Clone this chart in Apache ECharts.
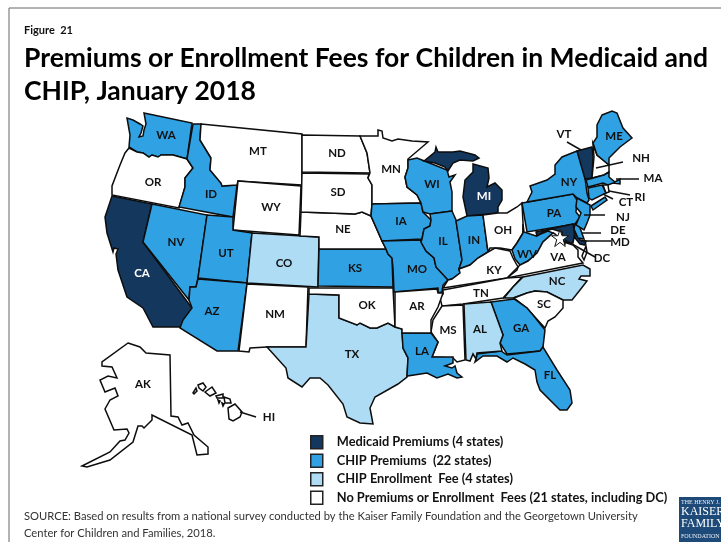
<!DOCTYPE html>
<html>
<head>
<meta charset="utf-8">
<style>
  html, body { margin: 0; padding: 0; background: #fff; }
  #chart { width: 721px; height: 542px; }
</style>
<script src="https://cdn.jsdelivr.net/npm/echarts@6/dist/echarts.min.js"></script>
</head>
<body>
<div id="chart"></div>
<script>
// policy groups, as listed in the legend
const tierNames = [
  'Medicaid Premiums (4 states)',
  'CHIP Premiums  (22 states)',
  'CHIP Enrollment  Fee (4 states)',
  'No Premiums or Enrollment  Fees (21 states, including DC)'
];
const tierColors = ['#14375e', '#30a1e3', '#aedcf5', '#ffffff'];
const medicaidStates = ['CA', 'MI', 'MD', 'VT'];
const chipPremiumStates = ['WA', 'ID', 'NV', 'UT', 'AZ', 'KS', 'IA', 'MO', 'WI', 'IL', 'IN', 'LA', 'GA', 'FL', 'WV', 'PA', 'NY', 'NJ', 'DE', 'CT', 'MA', 'ME'];
const chipFeeStates = ['CO', 'TX', 'AL', 'NC'];
const noFeeStates = ['OR', 'MT', 'WY', 'NM', 'ND', 'SD', 'NE', 'OK', 'MN', 'AR', 'MS', 'TN', 'KY', 'OH', 'VA', 'SC', 'NH', 'RI', 'AK', 'HI', 'DC'];
const tierStates = [medicaidStates, chipPremiumStates, chipFeeStates, noFeeStates];
const lightLabelStates = ['CA', 'MI'];

// hand traced state outlines, one list per polygon (x, y down)
const outlines = {
  WA: [[[144,113],[192,123],[187,159],[173,155],[161,155],[158,157],[152,155],[149,157],[143,153],[137,152],[129,147],[130,135],[127,118],[133,120],[140,124],[143,126],[141,133],[139,137],[143,136],[144,130],[146,124]]],
  OR: [[[129,148],[137,152],[143,153],[149,157],[152,155],[158,157],[161,155],[173,155],[187,159],[193,168],[185,178],[185,187],[179,208],[112,195],[112,186],[120,165],[125,153]]],
  CA: [[[112,196],[152,204],[143,242],[192,308],[183,327],[153,327],[143,308],[127,297],[118,270],[116,254],[118,249],[114,248],[113,252],[107,233],[105,217]]],
  NV: [[[152,204],[207,215],[198,278],[196,287],[190,287],[189,300],[143,242]]],
  ID: [[[193,124],[201,124],[200,140],[211,158],[210,170],[221,183],[222,186],[237,185],[233,217],[179,207],[185,187],[185,178],[193,168],[187,159]]],
  MT: [[[201,124],[302,134],[302,185],[238,181],[237,185],[222,186],[221,183],[210,170],[211,158],[200,140]]],
  WY: [[[238,181],[301,186],[299,235],[233,230]]],
  UT: [[[207,215],[233,217],[233,230],[252,233],[247,283],[198,278]]],
  CO: [[[252,233],[319,237],[318,287],[247,283]]],
  AZ: [[[198,279],[247,283],[238,351],[217,351],[180,328],[183,320],[192,308],[189,300],[190,287],[196,287]]],
  NM: [[[247,284],[308,287],[306,347],[267,347],[250,348],[249,352],[239,351]]],
  TX: [[[309,294],[339,295],[339,318],[357,325],[360,323],[370,328],[377,328],[388,323],[395,327],[402,329],[403,348],[408,358],[407,377],[398,384],[375,397],[370,408],[373,424],[360,423],[347,417],[343,404],[328,385],[320,378],[310,378],[302,387],[288,378],[286,368],[267,347],[306,347]]],
  OK: [[[309,288],[393,288],[395,327],[388,323],[377,328],[370,328],[360,323],[357,325],[339,318],[339,295],[309,294]]],
  KS: [[[319,249],[386,249],[388,254],[392,258],[393,287],[318,286]]],
  NE: [[[301,212],[355,214],[362,212],[371,216],[382,241],[386,249],[319,249],[319,237],[300,236]]],
  SD: [[[302,173],[369,174],[368,178],[372,185],[372,204],[371,216],[362,212],[355,214],[301,212]]],
  ND: [[[302,135],[360,136],[367,153],[370,173],[302,172]]],
  MN: [[[360,136],[378,136],[378,130],[382,131],[383,138],[392,141],[398,139],[412,141],[428,142],[408,159],[408,168],[405,177],[407,187],[417,195],[421,203],[372,204],[372,185],[368,178],[370,173],[367,153]]],
  IA: [[[372,204],[421,203],[423,212],[431,220],[430,226],[424,229],[422,239],[382,241],[371,216]]],
  MO: [[[382,241],[422,240],[421,242],[426,251],[434,258],[436,267],[448,280],[443,285],[442,292],[438,293],[438,288],[394,292],[393,268],[392,258],[388,254],[386,249]]],
  WI: [[[408,160],[417,158],[427,162],[447,170],[449,177],[455,175],[450,182],[452,192],[452,211],[430,214],[423,212],[421,203],[417,195],[407,187],[405,177],[408,168]]],
  IL: [[[430,214],[452,211],[456,220],[462,260],[459,269],[460,273],[452,279],[448,280],[436,267],[434,258],[426,251],[421,242],[422,239],[424,229],[430,226],[431,220]]],
  MI: [
    [[424,161],[435,152],[436,147],[438,152],[453,152],[460,151],[475,155],[479,158],[473,161],[460,160],[453,163],[448,171],[445,167],[435,163]],
    [[473,164],[488,168],[489,178],[487,187],[495,183],[502,190],[502,200],[498,207],[498,213],[467,216],[463,197],[465,180],[473,172]]
  ],
  IN: [[[456,221],[467,216],[483,215],[488,252],[478,258],[470,265],[459,269],[462,260]]],
  OH: [[[483,215],[498,213],[507,213],[517,207],[522,203],[523,223],[523,233],[517,243],[512,250],[500,248],[490,248],[488,252]]],
  WV: [[[523,224],[524,232],[536,236],[548,231],[553,233],[543,242],[537,253],[528,261],[520,265],[515,259],[512,250],[517,243],[523,233]]],
  PA: [[[522,203],[528,202],[573,194],[577,200],[576,212],[580,217],[575,224],[527,232]]],
  MD: [
    [[536,232],[573,224],[575,232],[573,243],[563,242],[562,232],[552,229],[543,232],[537,236]],
    [[574,230],[580,240],[586,241],[585,245],[580,244],[575,238]]
  ],
  DE: [[[575,224],[579,225],[584,239],[578,238],[574,229]]],
  VA: [
    [[555,234],[564,242],[573,245],[578,250],[578,257],[583,263],[507,278],[517,270],[518,267],[520,265],[528,261],[537,253],[543,242],[553,233]],
    [[586,246],[587,252],[584,260],[582,256]]
  ],
  KY: [[[443,288],[448,280],[452,279],[460,273],[459,269],[470,265],[478,258],[488,252],[495,248],[510,251],[513,258],[518,267],[507,278]]],
  TN: [[[443,290],[507,278],[522,277],[513,287],[503,298],[463,304],[442,306],[440,298],[443,294]]],
  NC: [[[523,277],[583,265],[590,269],[590,276],[581,276],[579,279],[587,281],[580,290],[572,300],[563,300],[547,292],[535,291],[527,293],[513,298],[504,298],[513,287]]],
  SC: [[[514,298],[527,293],[535,291],[547,292],[563,300],[563,308],[555,317],[548,321],[545,328],[533,315],[527,308]]],
  GA: [[[491,302],[514,299],[527,308],[533,315],[545,330],[543,347],[540,351],[507,354],[500,343],[503,335]]],
  FL: [[[477,354],[501,351],[507,355],[540,351],[543,347],[557,370],[570,390],[572,403],[567,410],[560,410],[540,390],[537,382],[535,370],[525,364],[513,358],[507,362],[497,356],[483,356],[475,362],[476,359]]],
  AL: [[[464,304],[491,302],[503,335],[500,343],[502,351],[477,353],[476,359],[473,354],[470,361],[466,360]]],
  MS: [[[442,306],[463,305],[465,360],[457,362],[453,358],[432,357],[438,342],[431,332],[433,320]]],
  LA: [[[402,333],[431,333],[438,342],[432,357],[453,357],[453,363],[445,366],[452,368],[455,366],[457,373],[462,377],[457,378],[448,374],[437,378],[427,373],[407,376],[408,358],[403,348]]],
  AR: [[[395,292],[437,289],[438,293],[443,293],[438,307],[431,320],[431,333],[402,333],[402,329],[395,327]]],
  NY: [
    [[527,202],[532,192],[530,186],[547,180],[555,174],[555,165],[562,157],[577,151],[582,163],[585,178],[587,193],[589,200],[587,203],[577,198],[573,194]],
    [[591,206],[605,197],[607,200],[593,210]]
  ],
  VT: [[[577,151],[592,147],[593,157],[592,178],[585,179],[581,165]]],
  NH: [[[593,144],[597,155],[609,165],[609,172],[604,175],[592,178],[594,157]]],
  ME: [[[602,115],[612,111],[617,113],[623,128],[632,138],[620,147],[609,158],[609,165],[597,155],[593,143],[597,137],[597,125]]],
  MA: [[[586,180],[604,175],[609,172],[609,177],[615,182],[620,179],[620,184],[613,183],[608,185],[603,183],[588,187]]],
  CT: [[[588,188],[602,185],[606,193],[592,200],[589,198]]],
  RI: [[[603,185],[608,185],[609,192],[606,193]]],
  NJ: [[[577,198],[590,205],[590,215],[587,223],[584,230],[576,225],[581,213],[576,207]]],
  DC: [[[563,242],[565,242],[565,244],[563,244]]],
  AK: [[[128,343],[140,347],[146,353],[170,355],[171,416],[178,417],[182,425],[188,423],[194,435],[208,447],[208,454],[197,455],[192,435],[152,415],[152,420],[144,428],[142,426],[138,426],[133,442],[110,460],[87,467],[82,466],[110,452],[120,441],[125,440],[129,433],[127,429],[114,430],[105,409],[110,400],[118,396],[115,388],[105,392],[100,380],[108,376],[117,378],[112,367],[102,366],[102,362]]],
  HI: [
    [[228,408],[235,404],[242,412],[240,417],[233,421],[229,419]],
    [[224,397],[230,399],[231,403],[225,403]],
    [[216,396],[223,394],[223,398],[217,398]],
    [[205,392],[212,387],[216,393],[210,396]],
    [[198,385],[203,383],[206,387],[203,391],[199,388]],
    [[193,393],[196,388],[197,391],[194,394]],
    [[218,400],[220,401],[219,403]],
    [[222,403],[224,404],[223,406]]
  ]
};

// where each state's abbreviation is printed
const labelSpots = {
  WA: [166,135], OR: [153,182], CA: [142,273], NV: [176,242], ID: [211,194], MT: [258,151], WY: [271,207],
  UT: [226,253], CO: [284,263], AZ: [212,311], NM: [275,314], ND: [337,153], SD: [338,192], NE: [343,229],
  KS: [355,268], TX: [352,354], OK: [367,305], AR: [417,306], LA: [422,351], MN: [391,169], IA: [401,221],
  MO: [417,269], WI: [432,184], IL: [443,241], MI: [484,196], IN: [474,240], OH: [503,230], PA: [554,213],
  NY: [569,182], WV: [527,254], VA: [558,257], KY: [494,270], TN: [481,293], NC: [557,281], SC: [544,304],
  GA: [521,328], AL: [480,329], MS: [448,330], FL: [550,375], ME: [614,136], VT: [564,134], NH: [641,158],
  MA: [653,178], RI: [640,197], CT: [626,202], NJ: [623,217], DE: [618,230], MD: [620,242], DC: [602,258],
  AK: [143,384], HI: [269,417]
};

// leader lines from the outside labels into the small states
const leaderLines = [
  [[567,142],[581,150]],
  [[623,162],[596,168]],
  [[639,179],[616,179]],
  [[630,195],[609,191]],
  [[613,199],[603,194]],
  [[605,215],[584,215]],
  [[601,233],[582,233]],
  [[611,241],[581,241]],
  [[595,257],[565,240]],
  [[256,417],[240,412]]
];
const capitalSpot = [560,238];
const starPath = 'path://M50 0L62 35L100 35L69 57L81 95L50 72L19 95L31 57L0 35L38 35Z';

const toGeo = p => [p[0], -p[1]];

const geoJson = {
  type: 'FeatureCollection',
  features: Object.keys(outlines).map(name => ({
    type: 'Feature',
    properties: { name: name },
    geometry: {
      type: 'MultiPolygon',
      coordinates: outlines[name].map(ring => [ring.map(toGeo)])
    }
  }))
};
echarts.registerMap('usStates', geoJson);

const regions = [];
tierStates.forEach((states, i) => {
  states.forEach(name => {
    regions.push({ name: name, itemStyle: { areaColor: tierColors[i] } });
  });
});

const labelFont = { fontFamily: 'Lato', fontWeight: 'bold', fontSize: 11.5 };
const tierSeries = tierNames.map((name, i) => ({
  type: 'scatter',
  name: name,
  coordinateSystem: 'geo',
  symbolSize: 0,
  silent: true,
  itemStyle: { color: tierColors[i], opacity: 1 },
  label: Object.assign({ show: true, position: 'inside', color: '#111', formatter: '{b}' }, labelFont),
  data: tierStates[i].map(st => {
    const item = { name: st, value: toGeo(labelSpots[st]) };
    if (lightLabelStates.includes(st)) {
      item.label = { color: '#ffffff' };
    }
    return item;
  }),
  z: 5
}));

const chart = echarts.init(document.getElementById('chart'));
chart.setOption({
  animation: false,
  backgroundColor: '#ffffff',
  title: [
    { text: 'Figure  21', left: 24, top: 25, padding: 0, textStyle: { fontFamily: 'Lato', fontWeight: 'bold', fontSize: 11, color: '#111' } },
    { text: 'Premiums or Enrollment Fees for Children in Medicaid and', left: 24, top: 45, padding: 0, textStyle: { fontFamily: 'Lato', fontWeight: 'bold', fontSize: 26.5, color: '#000' } },
    { text: 'CHIP, January 2018', left: 24, top: 78, padding: 0, textStyle: { fontFamily: 'Lato', fontWeight: 'bold', fontSize: 26.5, color: '#000' } },
    { text: 'SOURCE: Based on results from a national survey conducted by the Kaiser Family Foundation and the Georgetown University', left: 24, top: 511, padding: 0, textStyle: { fontFamily: 'Lato', fontWeight: 'normal', fontSize: 11.2, color: '#333' } },
    { text: 'Center for Children and Families, 2018.', left: 24, top: 528, padding: 0, textStyle: { fontFamily: 'Lato', fontWeight: 'normal', fontSize: 11.2, color: '#333' } }
  ],
  legend: {
    left: 310,
    top: 435,
    padding: 0,
    orient: 'vertical',
    itemWidth: 12,
    itemHeight: 13,
    itemGap: 4,
    selectedMode: false,
    textStyle: { fontFamily: 'Lato', fontWeight: 'bold', fontSize: 12.8, lineHeight: 13, color: '#111', padding: [0, 0, 0, 9] },
    data: tierNames.map((name, i) => ({
      name: name,
      icon: 'rect',
      itemStyle: { color: tierColors[i], opacity: 1, borderColor: '#222', borderWidth: 1.5 }
    }))
  },
  geo: {
    map: 'usStates',
    roam: false,
    silent: true,
    aspectScale: 1,
    left: 0,
    top: 0,
    width: 721,
    height: 542,
    boundingCoords: [[0, 0], [721, -542]],
    label: { show: false },
    itemStyle: { areaColor: '#ffffff', borderColor: '#0d0d0d', borderWidth: 1.5 },
    regions: regions
  },
  graphic: [
    { type: 'line', shape: { x1: 9, y1: 8, x2: 721, y2: 8 }, style: { stroke: '#666', lineWidth: 1 } },
    { type: 'line', shape: { x1: 9, y1: 8, x2: 9, y2: 542 }, style: { stroke: '#666', lineWidth: 1 } },
    { type: 'rect', shape: { x: 679, y: 497, width: 42, height: 45 }, style: { fill: '#1d4a78' } },
    { type: 'text', x: 681, y: 499, style: { text: 'THE HENRY J.', fill: '#e8eef5', fontFamily: 'Liberation Serif', fontSize: 6 } },
    { type: 'text', x: 681, y: 506, style: { text: 'KAISER', fill: '#ffffff', fontFamily: 'Liberation Serif', fontSize: 12 } },
    { type: 'text', x: 681, y: 518, style: { text: 'FAMILY', fill: '#ffffff', fontFamily: 'Liberation Serif', fontSize: 12 } },
    { type: 'text', x: 681, y: 533, style: { text: 'FOUNDATION', fill: '#e8eef5', fontFamily: 'Liberation Serif', fontSize: 6 } }
  ],
  series: tierSeries.concat([
    {
      type: 'lines',
      coordinateSystem: 'geo',
      silent: true,
      lineStyle: { color: '#111', width: 1.5, opacity: 1 },
      data: leaderLines.map(l => ({ coords: l.map(toGeo) })),
      z: 4
    },
    {
      type: 'scatter',
      name: 'DC star',
      coordinateSystem: 'geo',
      silent: true,
      symbol: starPath,
      symbolSize: 17,
      itemStyle: { color: '#ffffff', opacity: 1, borderColor: '#111', borderWidth: 1 },
      data: [toGeo(capitalSpot)],
      z: 6
    }
  ])
});
</script>
</body>
</html>
